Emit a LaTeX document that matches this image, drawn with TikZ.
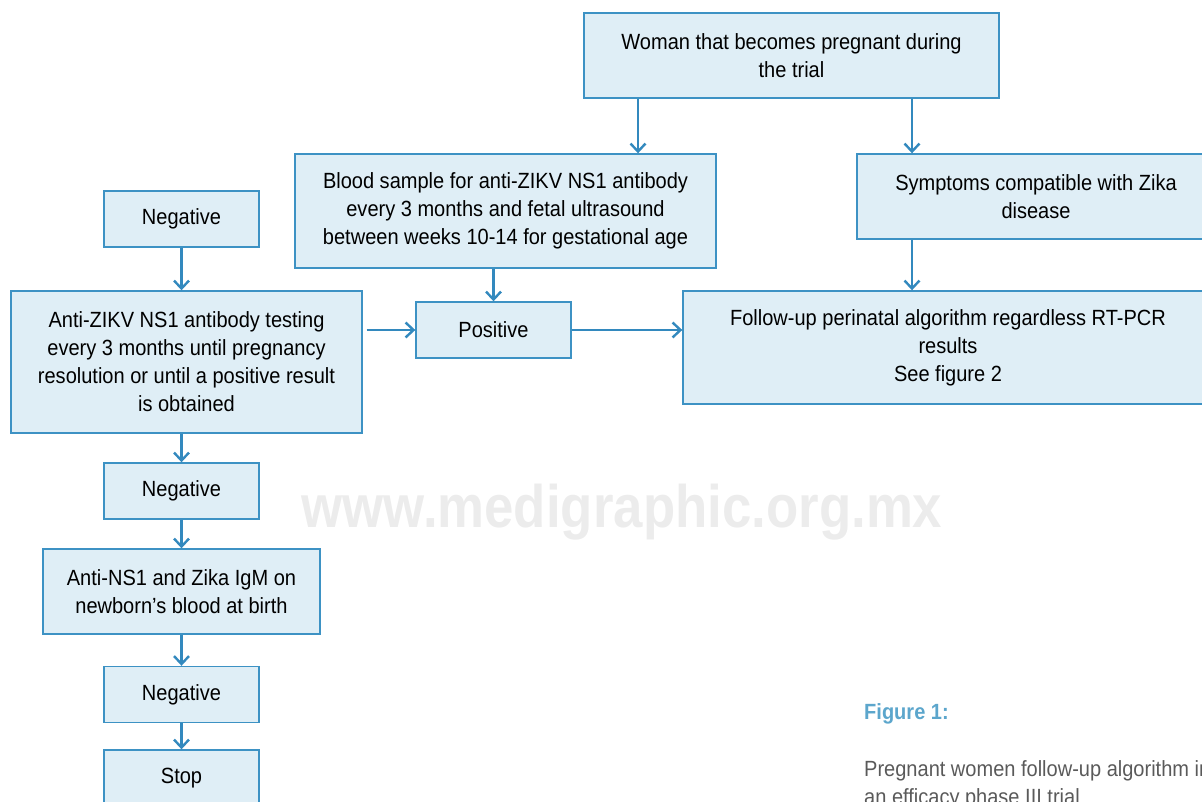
\documentclass[tikz,border=0pt]{standalone}
\usepackage{fontspec}
\setmainfont{Liberation Sans}[FakeStretch=0.91]
\newfontfamily\markfont{Liberation Sans}[FakeStretch=0.88]
\usetikzlibrary{arrows.meta}
\definecolor{boxfill}{HTML}{DFEEF6}
\definecolor{boxline}{HTML}{3D92C4}
\definecolor{arrowblue}{HTML}{3389BE}
\definecolor{capblue}{HTML}{5CA6CC}
\definecolor{capgray}{HTML}{5A5A5A}
\definecolor{markgray}{HTML}{ECECEC}
\begin{document}
\begin{tikzpicture}[x=1pt,y=-1pt,
  box/.style={draw=boxline, line width=1.4pt, fill=boxfill, align=center, inner sep=0pt, font=\fontsize{22}{28}\selectfont},
  smallbox/.style={box, minimum width=155, minimum height=56},
  arr/.style={draw=arrowblue, line width=2.4pt, -{Straight Barb[length=8pt,width=15pt]}}]
\path[use as bounding box] (0,0) rectangle (1202,802);
\clip (0,0) rectangle (1202,802);
% watermark
\node[text=markgray, font=\markfont\bfseries\fontsize{60}{62}\selectfont] (mark) at (622,512) {www.medigraphic.org.mx};
% boxes
\node[box, minimum width=415, minimum height=85] (woman) at (791.5,55.5) {Woman that becomes pregnant during\\the trial};
\node[box, minimum width=421, minimum height=114] (blood) at (505.5,211) {Blood sample for anti-ZIKV NS1 antibody\\every 3 months and fetal ultrasound\\between weeks 10-14 for gestational age};
\node[box, minimum width=358, minimum height=85] (symptoms) at (1036,196.5) {Symptoms compatible with Zika\\disease};
\node[smallbox] (neg1) at (181.5,219) {Negative};
\node[box, minimum width=351, minimum height=142] (testing) at (186.5,362) {Anti-ZIKV NS1 antibody testing\\every 3 months until pregnancy\\resolution or until a positive result\\is obtained};
\node[smallbox] (pos) at (493.5,330) {Positive};
\node[box, minimum width=530, minimum height=113] (followup) at (948,347.5) {Follow-up perinatal algorithm regardless RT-PCR\\results\\See figure 2};
\node[smallbox] (neg2) at (181.5,491) {Negative};
\node[box, minimum width=277, minimum height=85] (newborn) at (181.5,591.5) {Anti-NS1 and Zika IgM on\\newborn’s blood at birth};
\node[smallbox] (neg3) at (181.5,694.5) {Negative};
\node[smallbox] (stop) at (181.5,778) {Stop};
% arrows
\draw[arr] (woman.south -| 638,0) -- (blood.north -| 638,0);
\draw[arr] (woman.south -| 912,0) -- (symptoms.north -| 912,0);
\draw[arr] (symptoms.south -| 912,0) -- (followup.north -| 912,0);
\draw[arr] (blood.south -| pos.north) -- (pos.north);
\draw[arr] (neg1.south) -- (neg1.south |- testing.north);
\draw[arr, shorten <=4pt] (testing.east |- pos.west) -- (pos.west);
\draw[arr] (pos.east) -- (pos.east -| followup.west);
\draw[arr] (neg2.north |- testing.south) -- (neg2.north);
\draw[arr] (neg2.south) -- (newborn.north);
\draw[arr] (newborn.south) -- (neg3.north);
\draw[arr] (neg3.south) -- (stop.north);
% caption
\node[anchor=west, inner sep=0pt, text=capblue, font=\bfseries\fontsize{22}{28}\selectfont] (figlabel) at (864,714) {Figure 1:};
\node[anchor=north west, inner sep=0pt, align=left, text=capgray, font=\fontsize{22}{28}\selectfont] (figtext) at (864,760) {Pregnant women follow-up algorithm in\\an efficacy phase III trial};
\end{tikzpicture}
\end{document}
